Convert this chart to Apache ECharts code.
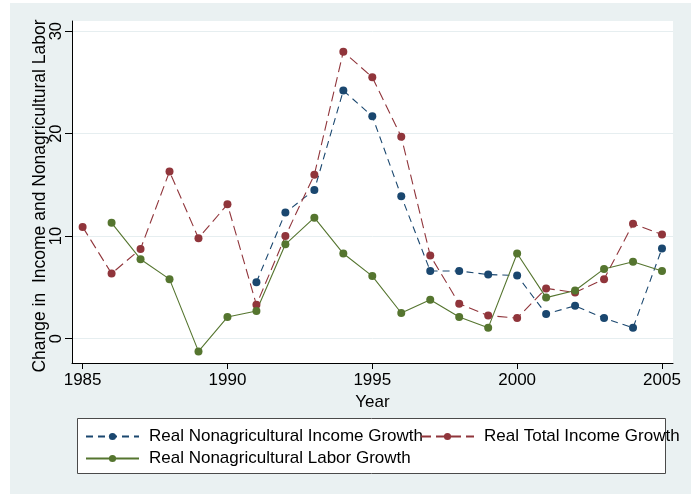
<!DOCTYPE html>
<html>
<head>
<meta charset="utf-8">
<script src="https://cdn.jsdelivr.net/npm/echarts@6/dist/echarts.min.js"></script>
<style>
  html, body { margin: 0; padding: 0; background: #ffffff; }
  #chart { width: 691px; height: 494px; }
</style>
</head>
<body>
<div id="chart"></div>
<script>
// Annual growth rates, 1985-2005
const years = [1985, 1986, 1987, 1988, 1989, 1990, 1991, 1992, 1993, 1994, 1995,
               1996, 1997, 1998, 1999, 2000, 2001, 2002, 2003, 2004, 2005];

const nonagIncomeGrowth = [null, null, null, null, null, null, 5.5, 12.3, 14.5, 24.2, 21.7,
                           13.9, 6.6, 6.6, 6.25, 6.15, 2.4, 3.2, 2.0, 1.05, 8.8];

const totalIncomeGrowth = [10.9, 6.35, 8.75, 16.3, 9.8, 13.1, 3.3, 10.0, 16.0, 28.0, 25.5,
                           19.7, 8.1, 3.4, 2.25, 2.0, 4.9, 4.5, 5.8, 11.2, 10.15];

const nonagLaborGrowth = [null, 11.3, 7.75, 5.8, -1.25, 2.1, 2.7, 9.2, 11.8, 8.3, 6.1,
                          2.5, 3.8, 2.1, 1.05, 8.3, 4.0, 4.7, 6.8, 7.5, 6.6];

const xTicks = [1985, 1990, 1995, 2000, 2005];
const yTicks = [0, 10, 20, 30];

const seriesNames = [
  'Real Nonagricultural Income Growth',
  'Real Total Income Growth',
  'Real Nonagricultural Labor Growth'
];
const colors = ['#1a476f', '#90353b', '#55752f'];

function pairs(vals) {
  const out = [];
  years.forEach((y, i) => { if (vals[i] !== null) out.push([y, vals[i]]); });
  return out;
}

const FONT = 'Liberation Sans, Arial, sans-serif';

const chart = echarts.init(document.getElementById('chart'), null, { renderer: 'canvas' });

const legendCommon = {
  orient: 'horizontal',
  itemWidth: 53,
  itemHeight: 9,
  itemGap: 0,
  padding: 0,
  textStyle: { fontFamily: FONT, fontSize: 17, color: '#000', padding: [0, 0, 0, 5] },
  inactiveColor: '#000'
};

const option = {
  animation: false,
  backgroundColor: 'transparent',
  graphic: [
    { type: 'rect', z: -10, shape: { x: 10, y: 3, width: 681, height: 491 },
      style: { fill: '#eaf1f2' } },
    { type: 'rect', z: 1, shape: { x: 77.5, y: 418.5, width: 588, height: 55 },
      style: { fill: '#ffffff', stroke: '#4a4a4a', lineWidth: 1 } }
  ],
  grid: {
    left: 72, right: 18, top: 21, bottom: 131,
    show: true, backgroundColor: '#ffffff', borderWidth: 0
  },
  xAxis: {
    type: 'value',
    min: 1984.634, max: 2005.38,
    name: 'Year',
    nameLocation: 'middle',
    nameGap: 24,
    nameTextStyle: { fontFamily: FONT, fontSize: 17, color: '#000' },
    axisLine: { show: true, onZero: false, lineStyle: { color: '#000', width: 1 } },
    axisTick: { show: true, length: 6, customValues: xTicks, lineStyle: { color: '#000' } },
    axisLabel: {
      customValues: xTicks, margin: 9, fontFamily: FONT, fontSize: 17, color: '#000',
      formatter: v => String(v)
    },
    splitLine: { show: false }
  },
  yAxis: {
    type: 'value',
    min: -2.38, max: 30.99,
    name: 'Change in  Income and Nonagricultural Labor',
    nameLocation: 'middle',
    nameGap: 23,
    nameMoveOverlap: false,
    nameTextStyle: { fontFamily: FONT, fontSize: 17.5, color: '#000', padding: [0, 8, 0, 0] },
    axisLine: { show: true, onZero: false, lineStyle: { color: '#000', width: 1 } },
    axisTick: { show: true, length: 7, customValues: yTicks, lineStyle: { color: '#000' } },
    axisLabel: {
      customValues: yTicks, rotate: 90, margin: 7, fontFamily: FONT, fontSize: 16.5, color: '#000',
      formatter: v => String(v)
    },
    splitLine: { show: true, lineStyle: { color: '#e6eef0', width: 1 } }
  },
  legend: [
    Object.assign({ left: 85, top: 428, data: [seriesNames[0]] }, legendCommon),
    Object.assign({ left: 420, top: 428, data: [seriesNames[1]] }, legendCommon),
    Object.assign({ left: 85, top: 450, data: [seriesNames[2]] }, legendCommon)
  ],
  series: [
    {
      name: seriesNames[0], type: 'line', data: pairs(nonagIncomeGrowth),
      color: colors[0], symbol: 'circle', symbolSize: 8,
      lineStyle: { width: 1.1, type: [7, 5], color: colors[0] },
      itemStyle: { color: colors[0] }
    },
    {
      name: seriesNames[1], type: 'line', data: pairs(totalIncomeGrowth),
      color: colors[1], symbol: 'circle', symbolSize: 8,
      lineStyle: { width: 1.1, type: [10, 5], color: colors[1] },
      itemStyle: { color: colors[1] }
    },
    {
      name: seriesNames[2], type: 'line', data: pairs(nonagLaborGrowth),
      color: colors[2], symbol: 'circle', symbolSize: 8,
      lineStyle: { width: 1.1, type: 'solid', color: colors[2] },
      itemStyle: { color: colors[2] }
    }
  ]
};

chart.setOption(option);
</script>
</body>
</html>
